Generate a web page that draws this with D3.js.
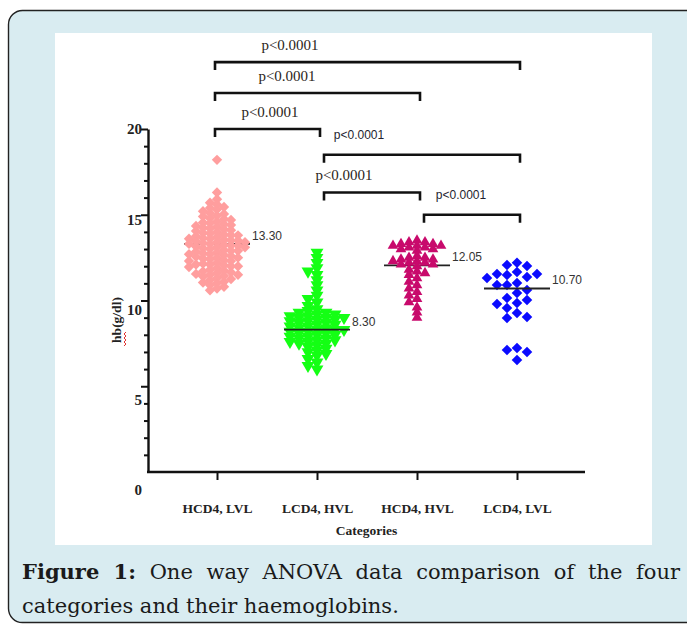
<!DOCTYPE html>
<html>
<head>
<meta charset="utf-8">
<script src="https://cdn.jsdelivr.net/npm/d3@7"></script>
<style>
    body { margin: 0; background: #ffffff; }
    svg { display: block; }
</style>
</head>
<body>
<div id="chart"></div>
<script>
// Haemoglobin by category - one way ANOVA scatter dot plot

const categories = ['HCD4, LVL', 'LCD4, HVL', 'HCD4, HVL', 'LCD4, LVL'];

// hb (g/dl) values
const hcd4Lvl = [
    18.2, 16.3,
    15.9, 15.7, 15.6,
    15.45, 15.4, 15.3, 15.2, 15.1, 15.05,
    14.95, 14.9, 14.8, 14.75, 14.7, 14.6, 14.55, 14.5,
    14.45, 14.4, 14.35, 14.3, 14.25, 14.2, 14.15, 14.1, 14.05, 14.0,
    13.95, 13.9, 13.85, 13.8, 13.8, 13.75, 13.7, 13.65, 13.6, 13.6, 13.55, 13.5, 13.5,
    13.45, 13.4, 13.4, 13.35, 13.3, 13.3, 13.25, 13.2, 13.2, 13.15, 13.1, 13.1, 13.05, 13.0,
    12.95, 12.9, 12.9, 12.85, 12.8, 12.75, 12.7, 12.7, 12.65, 12.6, 12.55, 12.5, 12.5,
    12.45, 12.4, 12.35, 12.3, 12.3, 12.2, 12.15, 12.1, 12.1, 12.05, 12.0, 12.0,
    11.95, 11.9, 11.8, 11.75, 11.7, 11.65, 11.6, 11.55, 11.5, 11.5,
    11.45, 11.4, 11.3, 11.25, 11.2, 11.1, 11.05, 11.0,
    10.9, 10.8, 10.7, 10.6
];
const lcd4Hvl = [
    12.8, 12.5, 12.2, 11.9, 11.7, 11.5, 11.2, 10.9, 10.6, 10.3,
    10.1, 9.9, 9.7, 9.5, 9.4,
    9.3, 9.3, 9.2, 9.2, 9.1, 9.1, 9.0, 9.0, 9.0, 8.9,
    8.9, 8.8, 8.8, 8.7, 8.7, 8.6, 8.6, 8.5, 8.5, 8.4,
    8.4, 8.3, 8.3, 8.3, 8.2, 8.2, 8.1, 8.1, 8.0, 8.0,
    7.9, 7.9, 7.8, 7.8, 7.7, 7.7, 7.6, 7.6, 7.5, 7.5,
    7.4, 7.3, 7.2, 7.1, 7.0, 6.9, 6.8, 6.6, 6.4, 6.2, 6.0
];
const hcd4Hvl = [
    13.5, 13.4, 13.4, 13.3, 13.3, 13.2, 13.2, 13.2, 13.1, 13.1, 13.0, 13.0, 12.9,
    12.6, 12.5, 12.5, 12.4, 12.4, 12.3, 12.3, 12.2, 12.2, 12.1, 12.1, 12.0,
    11.8, 11.7, 11.6, 11.5, 11.3, 11.1, 10.9, 10.7, 10.5, 10.3, 10.1, 9.9, 9.6, 9.3, 9.0
];
const lcd4Lvl = [
    12.2, 12.07, 12.01, 11.66, 11.55, 11.55, 11.49, 11.37, 11.31,
    11.02, 10.9, 10.9, 10.61, 10.44, 10.15, 10.03, 9.85, 9.8,
    9.56, 9.27, 9.04, 8.98, 7.23, 7.11, 7.0, 6.53
];

const medians = [13.30, 8.30, 12.05, 10.70];
const medianLabels = ['13.30', '8.30', '12.05', '10.70'];

const yTicks = [0, 5, 10, 15, 20];
const yMinorTicks = d3.range(1, 20).filter(v => v % 5 !== 0);

// pairwise comparisons: from category, to category, bracket height (hb units)
const compFrom = [0, 0, 0, 1, 1, 2];
const compTo = [3, 2, 1, 3, 2, 3];
const compLevel = [23.9, 22.1, 20.0, 18.5, 16.3, 15.0];
const compLabels = ['p<0.0001', 'p<0.0001', 'p<0.0001', 'p<0.0001', 'p<0.0001', 'p<0.0001'];

// ---- layout / styling ----
const width = 687, height = 625;
const groups = [hcd4Lvl, lcd4Hvl, hcd4Hvl, lcd4Lvl];
const markerColors = ['#ff9e9e', '#14ff14', '#c80a6c', '#0a0aff'];
const markerShapes = ['diamond', 'down', 'up', 'diamond'];
const markerSizes = [54, 72, 50, 56];
const swarmStep = [7, 9, 8, 10];
const swarmRowH = [4.4, 5, 4, 9];
const pLabelDx = [75, 72, 55, 35, 20, 37];
const pLabelSerif = [true, true, true, false, true, false];

const svg = d3.select('#chart')
    .append('svg')
    .attr('width', width)
    .attr('height', height);

// figure panel + white plot card
svg.append('rect')
    .attr('x', 8.5).attr('y', 10.5)
    .attr('width', 700).attr('height', 612)
    .attr('rx', 14)
    .attr('fill', '#d9ecf1')
    .attr('stroke', '#222')
    .attr('stroke-width', 1.4);

svg.append('rect')
    .attr('x', 55).attr('y', 33)
    .attr('width', 597).attr('height', 512)
    .attr('fill', '#ffffff');

// scales
const y = d3.scaleLinear().domain([0, 20]).range([472, 129]);
const x = d3.scalePoint().domain(categories).range([217, 517]);
const axisX0 = 148, axisX1 = 585;

const serif = '"Liberation Serif", "Times New Roman", serif';
const sans = '"Liberation Sans", Arial, sans-serif';

// y axis (major + minor ticks)
const yAxisG = svg.append('g')
    .attr('transform', `translate(${axisX0},0)`)
    .call(d3.axisLeft(y).tickValues(yTicks).tickSize(7).tickSizeOuter(0).tickPadding(0).tickFormat(d3.format('d')));

yAxisG.select('.domain').attr('stroke', '#111').attr('stroke-width', 2.4);
yAxisG.selectAll('.tick line').attr('stroke', '#111').attr('stroke-width', 2);
yAxisG.selectAll('.tick text')
    .attr('x', -6)
    .attr('dy', d => (0.32 + (20 - d) * 0.06) + 'em')
    .attr('fill', '#222')
    .style('font-family', serif)
    .style('font-weight', 'bold')
    .style('font-size', '15px');
yAxisG.selectAll('.tick').filter(d => d === 0).select('line').remove();

const yMinorG = svg.append('g')
    .attr('transform', `translate(${axisX0},0)`)
    .call(d3.axisLeft(y).tickValues(yMinorTicks).tickSize(4).tickSizeOuter(0).tickFormat(''));
yMinorG.select('.domain').remove();
yMinorG.selectAll('.tick line').attr('stroke', '#111').attr('stroke-width', 2);

// x axis
const xAxisG = svg.append('g')
    .attr('transform', `translate(0,${y(0)})`)
    .call(d3.axisBottom(x).tickSize(8).tickSizeOuter(0).tickPadding(23));
xAxisG.select('.domain')
    .attr('d', `M${axisX0 - 1},0H${axisX1}`)
    .attr('stroke', '#111')
    .attr('stroke-width', 2.4);
xAxisG.selectAll('.tick line').attr('stroke', '#111').attr('stroke-width', 2);
xAxisG.selectAll('.tick text')
    .attr('fill', '#222')
    .style('font-family', serif)
    .style('font-weight', 'bold')
    .style('font-size', '13.5px');

// axis titles
svg.append('text')
    .attr('x', (axisX0 + axisX1) / 2)
    .attr('y', 535)
    .attr('text-anchor', 'middle')
    .attr('fill', '#222')
    .style('font-family', serif)
    .style('font-weight', 'bold')
    .style('font-size', '13.5px')
    .text('Categories');

svg.append('text')
    .attr('transform', 'translate(121,320) rotate(-90)')
    .attr('text-anchor', 'middle')
    .attr('fill', '#222')
    .style('font-family', serif)
    .style('font-weight', 'bold')
    .style('font-size', '13.5px')
    .text('hb(g/dl)');

// spell-check squiggle under "hb"
const squiggle = d3.range(0, 8).map(i => [124 + (i % 2) * 2, 346 - i * 2]);
svg.append('path')
    .attr('d', d3.line()(squiggle))
    .attr('fill', 'none')
    .attr('stroke', '#e03030')
    .attr('stroke-width', 1);

// simple beeswarm: columns around the category centre
function swarm(values, cx, step, rowH) {
    const placed = [];
    values.slice().sort((a, b) => b - a).forEach(v => {
        const py = y(v);
        for (let k = 0; k < 60; k++) {
            const off = k === 0 ? 0 : (k % 2 ? -1 : 1) * Math.ceil(k / 2) * step;
            const px = cx + off;
            const hit = placed.some(p => Math.abs(p.x - px) < step * 0.5 && Math.abs(p.y - py) < rowH);
            if (!hit) { placed.push({ x: px, y: py, v: v }); break; }
        }
    });
    return placed;
}

function symbolPath(shape, size) {
    if (shape === 'diamond') return d3.symbol().type(d3.symbolSquare).size(size)();
    return d3.symbol().type(d3.symbolTriangle).size(size)();
}
function symbolRotate(shape) {
    if (shape === 'diamond') return 45;
    if (shape === 'down') return 180;
    return 0;
}

const halfLine = 33;

groups.forEach((vals, gi) => {
    const cx = x(categories[gi]);
    const pts = swarm(vals, cx, swarmStep[gi], swarmRowH[gi]);
    const medianOnTop = gi === 1 || gi === 3;

    const drawMedian = () => {
        svg.append('line')
            .attr('x1', cx - halfLine).attr('x2', cx + halfLine)
            .attr('y1', y(medians[gi])).attr('y2', y(medians[gi]))
            .attr('stroke', '#222')
            .attr('stroke-width', 1.8);
    };

    if (!medianOnTop) drawMedian();

    svg.append('g').selectAll('path')
        .data(pts)
        .enter()
        .append('path')
        .attr('d', symbolPath(markerShapes[gi], markerSizes[gi]))
        .attr('transform', d => `translate(${d.x},${d.y}) rotate(${symbolRotate(markerShapes[gi])})`)
        .attr('fill', markerColors[gi]);

    if (medianOnTop) drawMedian();

    svg.append('text')
        .attr('x', cx + halfLine + 2)
        .attr('y', y(medians[gi]) - 4)
        .attr('fill', '#333')
        .style('font-family', sans)
        .style('font-size', '12px')
        .text(medianLabels[gi]);
});

// significance brackets
compFrom.forEach((from, i) => {
    const x1 = x(categories[from]) + (from === 0 ? -2 : 7);
    const x2 = x(categories[compTo[i]]) + 3;
    const by = y(compLevel[i]);
    svg.append('path')
        .attr('d', `M${x1},${by + 8}V${by}H${x2}V${by + 8}`)
        .attr('fill', 'none')
        .attr('stroke', '#111')
        .attr('stroke-width', 2.6);

    svg.append('text')
        .attr('x', x1 + pLabelDx[i])
        .attr('y', pLabelSerif[i] ? by - 12 : by - 16)
        .attr('text-anchor', 'middle')
        .attr('fill', pLabelSerif[i] ? '#2a2420' : '#1e1e30')
        .style('font-family', pLabelSerif[i] ? serif : sans)
        .style('font-size', pLabelSerif[i] ? '15px' : '12px')
        .text(compLabels[i]);
});

// caption, first line justified through word spacing
const capFont = '"DejaVu Serif", serif';
const cap1 = svg.append('text')
    .attr('x', 22).attr('y', 579)
    .attr('fill', '#1a1a1a')
    .style('font-family', capFont)
    .style('font-size', '21px');
cap1.append('tspan').style('font-weight', 'bold').text('Figure 1:');
cap1.append('tspan').text(' One way ANOVA data comparison of the four');
const natural = cap1.node().getComputedTextLength();
cap1.style('word-spacing', ((658 - natural) / 9) + 'px');

svg.append('text')
    .attr('x', 22).attr('y', 613)
    .attr('fill', '#1a1a1a')
    .style('font-family', capFont)
    .style('font-size', '21px')
    .text('categories and their haemoglobins.');
</script>
</body>
</html>
